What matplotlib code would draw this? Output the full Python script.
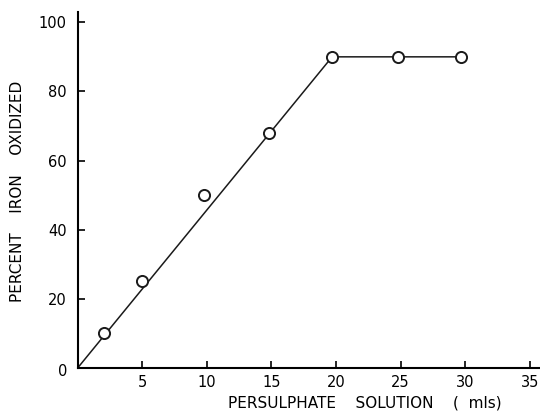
import matplotlib
matplotlib.use("Agg")
from matplotlib import pyplot as plt

# persulphate added (mls) vs percent iron oxidized
persulphate = [2.0, 5.0, 9.8, 14.8, 19.7, 24.8, 29.7]
oxidized = [10, 25, 50, 68, 90, 90, 90]

# fitted line: origin -> break point -> plateau
line_x = [0, 19.7, 29.7]
line_y = [0, 90, 90]

x_ticks = [5, 10, 15, 20, 25, 30, 35]
y_ticks = [20, 40, 60, 80, 100]

fig = plt.figure(figsize=(5.4, 4.11), dpi=100)
ax = fig.add_axes([0.144, 0.105, 0.856, 0.866])

ax.plot(line_x, line_y, color="#1a1a1a", lw=1.1, zorder=2)
ax.plot(persulphate, oxidized, "o", ms=8, mfc="white", mec="#1a1a1a", mew=1.4, zorder=3)

ax.set_xlim(0, 35.8)
ax.set_ylim(0, 103)
ax.set_xticks(x_ticks)
ax.set_yticks(y_ticks)
ax.tick_params(direction="in", length=5, width=1.2, labelsize=10.5, pad=8)
ax.tick_params(axis="x", pad=5)

for s in ["top", "right"]:
  ax.spines[s].set_visible(False)
for s in ["left", "bottom"]:
  ax.spines[s].set_linewidth(1.5)

ax.text(-0.8, -1.2, "0", ha="right", va="center", fontsize=10.5)

ax.set_xlabel("PERSULPHATE    SOLUTION    (  mls)", fontsize=11)
ax.xaxis.set_label_coords(0.62, -0.098)
ax.xaxis.label.set_va("center")
ax.set_ylabel("PERCENT    IRON    OXIDIZED", fontsize=11)
ax.yaxis.set_label_coords(-0.115, 0.495)

fig.savefig("out.png", dpi=100)
